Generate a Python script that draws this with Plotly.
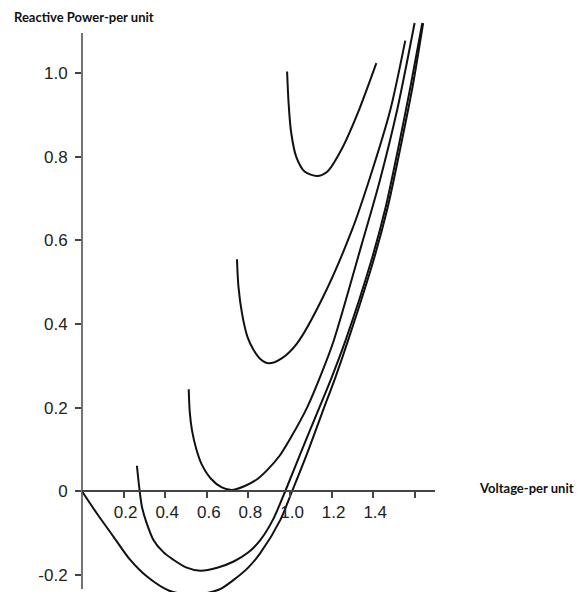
import plotly.graph_objects as go

# ---- data (per unit) ----
v1 = [0.0, 0.07, 0.152, 0.23, 0.3125, 0.42, 0.537, 0.66, 0.729, 0.80, 0.857, 0.953, 1.01, 1.082, 1.154, 1.22, 1.28, 1.40, 1.47, 1.53, 1.59, 1.64]
q1 = [0.0, -0.052, -0.109, -0.163, -0.204, -0.238, -0.248, -0.235, -0.212, -0.182, -0.148, -0.069, 0.0, 0.09, 0.187, 0.275, 0.362, 0.55, 0.68, 0.82, 0.97, 1.12]

v2 = [0.264, 0.275, 0.288, 0.31, 0.344, 0.39, 0.44, 0.50, 0.569, 0.65, 0.729, 0.80, 0.857, 0.92, 0.977, 1.05, 1.13, 1.20, 1.27, 1.39, 1.46, 1.52, 1.58, 1.636]
q2 = [0.061, 0.01, -0.037, -0.075, -0.117, -0.145, -0.164, -0.182, -0.19, -0.183, -0.168, -0.146, -0.117, -0.066, 0.0, 0.09, 0.187, 0.272, 0.365, 0.55, 0.68, 0.82, 0.97, 1.12]

v3 = [0.513, 0.518, 0.529, 0.55, 0.575, 0.62, 0.67, 0.72, 0.78, 0.84, 0.889, 0.95, 1.0, 1.082, 1.15, 1.21, 1.346, 1.43, 1.515, 1.599]
q3 = [0.244, 0.19, 0.145, 0.10, 0.065, 0.03, 0.01, 0.003, 0.012, 0.028, 0.05, 0.085, 0.125, 0.2, 0.28, 0.36, 0.593, 0.74, 0.912, 1.12]

v4 = [0.745, 0.752, 0.769, 0.795, 0.825, 0.86, 0.897, 0.96, 1.034, 1.16, 1.298, 1.386, 1.482, 1.554]
q4 = [0.555, 0.49, 0.426, 0.37, 0.338, 0.315, 0.306, 0.318, 0.354, 0.466, 0.625, 0.753, 0.912, 1.078]

v5 = [0.986, 0.993, 1.005, 1.03, 1.07, 1.13, 1.18, 1.25, 1.33, 1.415]
q5 = [1.004, 0.93, 0.86, 0.80, 0.765, 0.754, 0.765, 0.82, 0.91, 1.024]

y_tickvals = [-0.2, 0.0, 0.2, 0.4, 0.6, 0.8, 1.0]
y_ticktext = ["-0.2", "0", "0.2", "0.4", "0.6", "0.8", "1.0"]
x_tickvals = [0.2, 0.4, 0.6, 0.8, 1.0, 1.2, 1.4, 1.6]
x_ticktext = ["0.2", "0.4", "0.6", "0.8", "1.0", "1.2", "1.4", ""]

x_label = "Voltage-per unit"
y_label = "Reactive Power-per unit"

# ---- figure ----
fig = go.Figure()
for vs, qs in [(v1, q1), (v2, q2), (v3, q3), (v4, q4), (v5, q5)]:
    fig.add_trace(go.Scatter(x=vs, y=qs, mode="lines",
                             line=dict(color="#111111", width=2, shape="spline", smoothing=0.8),
                             showlegend=False, hoverinfo="skip"))

y_range = [-0.241, 1.156]
x_range = [0.0, 1.697]
axis_color = "#444444"
tick_font = dict(family="Liberation Sans, Arial, sans-serif", size=17, color="#222222")

fig.update_layout(
    width=582, height=597,
    margin=dict(l=82, r=147, t=8, b=5),
    plot_bgcolor="white", paper_bgcolor="white",
    xaxis=dict(range=x_range, showgrid=False, zeroline=False,
               showline=True, linecolor=axis_color, linewidth=1.5,
               anchor="free", position=(0 - y_range[0]) / (y_range[1] - y_range[0]),
               ticks="outside", ticklen=6, tickwidth=1.5, tickcolor=axis_color,
               tickvals=x_tickvals, ticktext=x_ticktext, tickfont=tick_font,
               ticklabelstandoff=0, ticklabelshift=2),
    yaxis=dict(range=y_range, showgrid=False, zeroline=False, showline=False,
               ticks="outside", ticklen=6, tickwidth=1.5, tickcolor=axis_color,
               tickvals=y_tickvals, ticktext=y_ticktext, tickfont=tick_font,
               ticklabelstandoff=4),
    shapes=[dict(type="line", xref="paper", yref="y", x0=0, x1=0, y0=-0.234, y1=1.096,
                 line=dict(color=axis_color, width=1.5))],
    annotations=[
        dict(text=y_label, xref="paper", yref="paper", x=(12 - 82) / 353, y=1 + (8 - 17) / 584,
             xanchor="left", yanchor="middle", showarrow=False,
             font=dict(family="Lato, sans-serif", size=13, color="#111111", weight="bold")),
        dict(text=x_label, xref="paper", yref="paper", x=(477 - 82) / 353, y=1 + (8 - 488) / 584,
             xanchor="left", yanchor="middle", showarrow=False,
             font=dict(family="Lato, sans-serif", size=13, color="#111111", weight="bold")),
    ],
)

fig.write_html("out.html")
